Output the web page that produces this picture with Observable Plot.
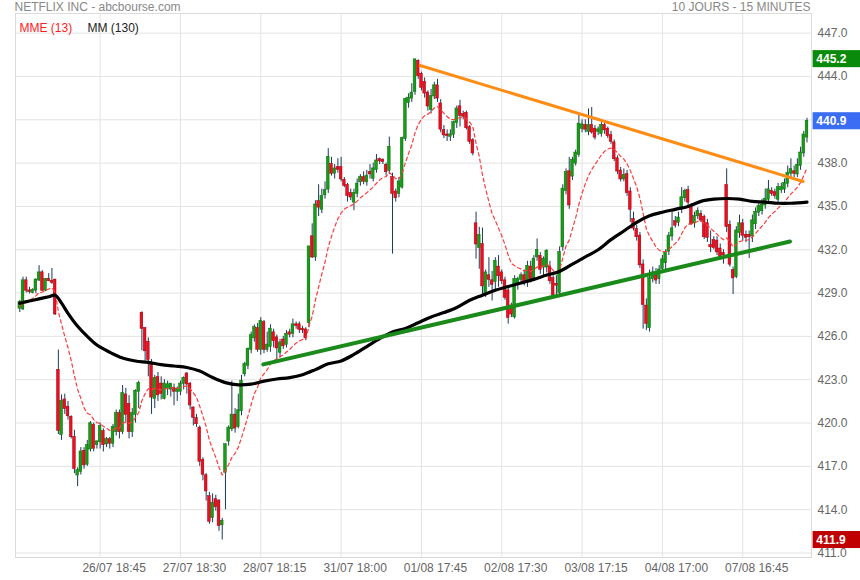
<!DOCTYPE html>
<html><head><meta charset="utf-8">
<script src="https://cdn.jsdelivr.net/npm/d3@7"></script>
<script src="https://cdn.jsdelivr.net/npm/@observablehq/plot@0.6"></script>
<style>body{margin:0;background:#fff}</style>
</head><body><div id="chart"></div>
<script>
// 15-minute candles, bar index 0..245
const openP = [
427.95,427.9,429.85,429.15,429.05,429.2,429.9,430.4,429.2,429.95,
429.8,429.9,423.65,419.2,421.6,421.1,420.4,419.0,416.4,416.65,
418.05,417.15,418.2,419.85,418.5,418.7,419.4,418.55,418.85,418.6,
419.4,420.65,419.4,421.95,421.3,419.4,420.6,422.2,427.6,426.55,
425.6,424.05,421.7,423.15,422.7,421.7,422.4,422.35,422.4,422.2,
422.2,422.75,423.4,422.7,421.05,420.3,419.65,417.4,416.35,414.9,
413.45,414.7,414.6,412.95,416.6,418.75,419.6,420.55,419.75,420.85,
423.4,424.0,425.1,425.9,426.55,425.1,426.95,425.1,425.3,426.25,
425.9,424.9,425.75,425.45,426.25,426.2,426.8,426.8,426.5,426.45,
426.95,432.9,431.5,435.35,434.8,435.8,436.2,437.9,437.3,437.7,
437.7,436.8,436.45,435.9,435.3,435.9,436.7,437.0,436.7,437.35,
436.95,437.55,438.25,438.2,437.85,437.5,437.0,436.0,435.9,436.34,
439.7,442.2,442.5,442.95,445.05,444.15,443.6,442.85,441.7,442.65,
443.35,442.1,440.25,439.95,439.85,440.0,440.8,441.9,441.35,441.45,
440.45,439.55,433.8,432.15,432.35,428.9,430.2,429.85,429.8,430.8,
430.4,429.85,429.15,428.1,427.35,429.6,429.95,430.2,429.75,430.8,
430.05,431.5,431.55,430.8,430.8,430.8,430.0,429.6,429.05,432.2,
436.1,437.4,437.1,438.0,438.6,440.4,440.6,440.2,440.6,440.35,
440.2,440.05,440.6,440.35,439.9,439.4,438.3,437.45,436.9,437.2,
436.0,434.1,433.4,432.95,430.95,428.1,426.6,430.0,430.4,430.0,
430.7,431.1,431.9,432.95,433.95,433.9,434.9,435.6,436.1,434.95,
433.85,434.35,434.45,434.25,433.8,432.3,432.65,432.6,432.05,431.75,
436.45,433.7,430.55,430.15,433.2,433.8,433.0,433.0,432.95,433.8,
434.6,434.7,435.1,435.5,436.05,435.95,435.5,436.15,436.2,436.6,
437.3,437.4,437.25,437.85,438.7,439.8];
const highP = [
428.5,430.1,430.1,429.4,429.3,430.0,430.9,430.55,430.0,430.35,
430.7,429.95,425.05,421.95,422.0,421.5,420.5,419.5,416.9,418.3,
418.3,418.8,420.1,420.0,418.75,420.0,419.6,419.0,419.0,419.9,
420.9,420.9,422.6,422.4,421.9,421.0,422.3,422.9,427.7,426.6,
425.9,424.4,423.3,423.5,423.2,423.0,422.9,422.6,422.7,422.5,
422.9,423.2,423.5,422.8,421.1,420.6,419.8,417.6,416.5,415.2,
415.1,415.0,414.7,413.4,418.55,419.8,422.9,421.0,422.0,423.3,
424.2,425.2,426.3,426.8,426.9,427.3,427.1,426.3,426.8,426.5,
426.1,425.8,426.0,426.4,426.5,427.2,427.0,427.0,426.7,426.6,
432.2,433.8,435.4,436.5,436.2,436.7,439.0,438.4,437.9,438.3,
438.4,437.0,436.6,436.2,436.2,436.9,437.2,437.4,437.5,437.9,
438.0,438.6,438.35,438.3,438.0,439.8,437.3,436.2,437.0,439.8,
442.5,442.8,443.5,445.2,445.15,444.3,443.9,443.0,443.1,443.6,
443.8,442.4,440.6,440.3,440.3,440.9,441.95,442.35,441.6,441.6,
440.6,439.7,434.6,433.55,433.5,430.6,431.45,430.5,431.45,431.6,
430.6,430.1,429.4,428.3,430.2,430.1,430.4,430.6,431.2,431.2,
431.6,432.75,431.8,431.5,432.0,431.2,430.2,430.2,432.2,436.5,
437.6,438.4,438.4,438.9,441.3,441.0,441.0,441.75,441.85,440.6,
440.5,440.8,440.9,440.5,440.2,439.6,438.5,437.7,437.6,437.5,
436.3,434.6,433.7,433.2,431.3,428.6,430.6,430.8,430.7,430.9,
431.6,432.0,433.2,434.6,434.3,434.6,436.3,436.2,436.4,435.2,
434.6,434.9,434.7,434.4,434.1,433.3,432.9,432.9,432.4,432.0,
437.6,434.0,430.8,433.6,434.4,434.1,433.3,433.3,434.4,434.9,
435.3,435.5,436.2,436.8,436.3,436.2,436.6,436.6,436.9,437.8,
438.3,437.8,438.3,439.1,440.2,441.1];
const lowP = [
427.65,427.8,429.0,428.95,428.95,428.95,429.8,429.1,429.1,429.8,
429.6,427.45,419.2,418.8,420.6,420.2,418.9,416.5,415.6,416.4,
416.8,417.0,418.0,418.0,418.2,418.2,418.0,418.3,418.2,418.3,
419.1,418.9,419.2,420.0,418.9,419.0,420.0,421.0,425.0,424.3,
423.2,420.6,421.0,421.5,421.6,421.6,421.9,421.8,421.2,421.5,
421.9,422.3,422.0,420.9,419.8,419.7,417.0,416.0,414.6,413.0,
413.1,413.9,412.5,411.9,414.0,418.4,419.4,419.3,419.6,420.5,
423.2,423.7,424.8,425.6,424.9,424.7,424.8,424.9,424.9,425.2,
424.4,424.5,425.1,425.2,425.9,425.9,426.5,426.2,426.2,425.7,
426.6,431.4,431.2,434.3,434.5,435.5,435.9,437.1,436.9,437.3,
436.7,436.3,435.3,435.4,434.7,435.6,436.4,436.5,436.4,436.9,
436.7,437.3,437.9,437.9,437.1,437.2,431.7,435.3,435.6,436.2,
439.5,441.8,442.2,442.7,443.8,443.0,442.5,441.6,441.4,442.4,
442.2,440.1,439.7,439.5,439.5,439.7,440.4,440.5,441.0,440.3,
439.3,438.5,431.35,430.65,428.9,428.7,429.4,428.45,429.15,429.4,
429.6,428.5,426.85,427.3,427.2,429.2,429.7,429.5,429.4,429.7,
429.8,431.2,430.3,430.2,430.4,429.6,428.8,428.9,428.8,431.9,
435.8,434.8,436.8,437.8,438.4,440.1,440.1,439.9,440.0,439.6,
439.9,439.8,440.0,439.7,439.3,438.1,437.2,436.7,436.7,435.7,
433.9,433.3,432.6,430.7,426.5,426.4,426.3,429.7,429.6,429.6,
430.4,430.5,431.6,432.6,433.5,433.6,434.5,435.3,435.0,433.7,
433.5,434.1,433.9,432.7,432.5,431.8,432.0,431.6,431.3,431.0,
433.2,430.8,428.9,430.0,432.8,432.6,432.5,431.4,432.5,433.4,
434.3,434.4,434.8,435.2,435.7,435.5,435.2,435.9,435.9,436.3,
437.0,437.0,437.0,437.5,438.4,439.4];
const closeP = [
428.35,429.85,429.2,429.1,429.2,429.9,430.4,429.2,429.95,429.85,
429.75,427.55,419.5,421.5,421.0,420.5,419.05,416.85,416.7,418.0,
417.1,418.45,419.95,418.25,418.7,419.75,418.5,418.85,418.6,419.7,
420.65,419.4,422.05,420.6,419.4,420.65,422.2,422.75,426.55,425.0,
424.4,421.8,423.1,421.95,422.05,422.7,422.65,422.7,422.2,422.35,
422.7,423.1,422.7,421.25,420.4,419.95,417.35,416.45,415.3,413.2,
414.45,414.2,412.9,413.2,418.5,419.65,420.55,419.65,420.85,422.9,
424.05,425.1,426.05,426.6,425.1,427.05,425.1,425.4,426.5,425.7,
425.2,425.55,425.35,426.15,426.15,426.8,426.75,426.5,426.45,425.9,
432.2,431.5,435.1,434.95,435.7,436.1,438.4,437.3,437.6,437.55,
436.9,436.45,435.75,435.65,435.9,436.55,437.0,436.75,437.1,437.25,
437.6,438.15,438.15,438.1,437.4,439.1,435.9,435.6,436.7,439.7,
442.4,442.5,442.85,445.15,444.05,443.25,442.85,441.95,442.6,443.35,
442.5,440.35,439.95,439.9,439.95,440.8,441.75,441.3,441.25,440.45,
439.5,438.7,432.4,433.0,429.5,430.4,429.95,429.6,431.2,430.2,
429.85,428.7,427.3,427.55,429.95,429.95,430.2,429.7,430.85,430.0,
431.35,431.95,430.65,431.35,431.9,429.85,428.85,429.55,431.8,436.2,
437.35,435.1,438.2,438.7,440.7,440.65,440.35,440.6,440.15,439.8,
440.3,440.6,440.3,439.9,439.5,438.3,437.45,436.9,437.15,435.95,
434.8,433.5,432.9,430.95,428.2,426.9,430.0,430.4,429.9,430.6,
431.3,431.8,432.95,433.45,433.7,434.2,435.6,436.05,435.3,433.8,
434.3,434.65,434.05,432.9,432.85,432.2,432.15,431.85,431.55,431.65,
433.6,431.0,430.05,433.3,433.8,433.0,432.85,432.9,434.0,434.6,
435.0,435.1,435.5,436.15,435.9,435.75,436.3,436.3,436.6,437.3,
437.55,437.3,437.85,438.7,439.95,440.9];

// MM (130) at sample bars
const smaIdx = [0,3,6,9,11,13,15,18,21,24,28,32,36,40,44,48,52,56,60,64,68,72,76,80,84,88,92,96,100,104,108,112,116,120,124,128,132,136,140,144,148,152,156,160,164,168,172,176,180,184,188,192,196,200,204,208,212,216,220,224,228,232,236,240,245];
const smaVal = [428.3,428.45,428.6,428.75,428.85,428.3,427.6,426.7,426.0,425.4,424.9,424.5,424.3,424.2,424.05,423.95,423.85,423.6,423.15,422.8,422.65,422.7,422.9,423.05,423.15,423.35,423.7,424.1,424.3,424.75,425.3,425.85,426.3,426.55,426.95,427.35,427.65,428.0,428.5,428.85,429.2,429.45,429.7,429.95,430.25,430.5,431.0,431.5,432.0,432.7,433.3,433.9,434.35,434.6,434.8,435.0,435.35,435.5,435.55,435.5,435.35,435.3,435.22,435.22,435.3];
const emaStart = 428.0;

// trend lines (bar index, price)
const orangeIdx = [124.6, 243.8], orangeVal = [444.76, 436.73];
const greenIdx = [75.8, 239.7], greenVal = [424.06, 432.57];

const xTicks = [25, 50, 75, 100, 125, 150, 175, 200, 225];
const xLabels = ["26/07 18:45","27/07 18:30","28/07 18:15","31/07 18:00","01/08 17:45","02/08 17:30","03/08 17:15","04/08 17:00","07/08 16:45"];
const yTicks = [411,414,417,420,423,426,429,432,435,438,441,444,447];

// price flags: highest, last, lowest
const flagVals = [445.2, 440.9, 411.9];
const flagColors = ["#0a8a0a", "#3a6cf4", "#c00000"];

const bars = openP.map((o, i) => ({i, o, h: highP[i], l: lowP[i], c: closeP[i]}));
const upBars = bars.filter(d => d.c >= d.o);
const downBars = bars.filter(d => d.c < d.o);
const ema = [];
let e = emaStart;
closeP.forEach((c, i) => { e = e + (2 / 14) * (c - e); ema.push({i, v: e}); });
const sma = smaIdx.map((i, k) => ({i, v: smaVal[k]}));
const orange = orangeIdx.map((i, k) => ({i, v: orangeVal[k]}));
const green = greenIdx.map((i, k) => ({i, v: greenVal[k]}));
const labelMap = new Map(xTicks.map((t, k) => [t, xLabels[k]]));
const flags = flagVals.map((v, k) => ({v, color: flagColors[k]}));

const chart = Plot.plot({
  width: 860, height: 580,
  marginLeft: 15, marginRight: 49, marginTop: 13, marginBottom: 23,
  style: {fontFamily: "'Liberation Sans', Arial, sans-serif", fontSize: "12px", background: "#fff", overflow: "visible"},
  x: {type: "linear", domain: [-1.34, 246.4], axis: null, label: null},
  y: {domain: [410.69, 448.36], axis: null, label: null},
  marks: [
    Plot.gridY(yTicks, {stroke: "#e3e3e3", strokeOpacity: 1}),
    Plot.gridX(xTicks, {stroke: "#e3e3e3", strokeOpacity: 1}),
    Plot.frame({stroke: "#dcdcdc"}),
    Plot.axisY(yTicks, {anchor: "right", label: null, tickSize: 0, tickPadding: 6, tickFormat: d => d.toFixed(1), fill: "#666", fontSize: 12}),
    Plot.axisX(xTicks, {anchor: "bottom", label: null, tickSize: 0, tickPadding: 6, tickFormat: d => labelMap.get(d), dx: 14, fill: "#666", fontSize: 12}),
    Plot.ruleX(bars, {x: "i", y1: "l", y2: "h", stroke: "#1d3a56", strokeWidth: 1}),
    Plot.rect(upBars, {x1: d => d.i - 0.42, x2: d => d.i + 0.42, y1: "o", y2: "c", fill: "#169c16", stroke: "#0b6d0b", strokeWidth: 0.5, insetTop: -0.5, insetBottom: -0.5}),
    Plot.rect(downBars, {x1: d => d.i - 0.42, x2: d => d.i + 0.42, y1: "c", y2: "o", fill: "#ea1020", stroke: "#a3000e", strokeWidth: 0.5, insetTop: -0.5, insetBottom: -0.5}),
    Plot.line(ema, {x: "i", y: "v", stroke: "#ff3b3b", strokeWidth: 1.2, strokeDasharray: "3.5,3"}),
    Plot.line(sma, {x: "i", y: "v", stroke: "#000", strokeWidth: 3.2, curve: "catmull-rom"}),
    Plot.line(orange, {x: "i", y: "v", stroke: "#ff8c14", strokeWidth: 3}),
    Plot.line(green, {x: "i", y: "v", stroke: "#1a8a1a", strokeWidth: 4}),
    Plot.rect(flags, {x1: 246.9, x2: 262, y1: d => d.v - 0.59, y2: d => d.v + 0.59, fill: "color"}),
    Plot.text(flags, {x: 247.9, y: "v", text: d => d.v.toFixed(1), textAnchor: "start", fill: "#fff", fontWeight: "bold", fontSize: 12}),
    Plot.text(["NETFLIX INC - abcbourse.com"], {frameAnchor: "top-left", dx: -1, dy: -6, lineAnchor: "middle", textAnchor: "start", fill: "#888", fontSize: 12}),
    Plot.text(["10 JOURS - 15 MINUTES"], {frameAnchor: "top-right", dx: -1, dy: -6, lineAnchor: "middle", textAnchor: "end", fill: "#888", fontSize: 12}),
    Plot.text(["MME (13)"], {frameAnchor: "top-left", dx: 4, dy: 15, lineAnchor: "middle", textAnchor: "start", fill: "#ff2020", fontSize: 12}),
    Plot.text(["MM (130)"], {frameAnchor: "top-left", dx: 72, dy: 15, lineAnchor: "middle", textAnchor: "start", fill: "#222", fontSize: 12})
  ]
});
document.getElementById("chart").appendChild(chart);
</script>
</body></html>
